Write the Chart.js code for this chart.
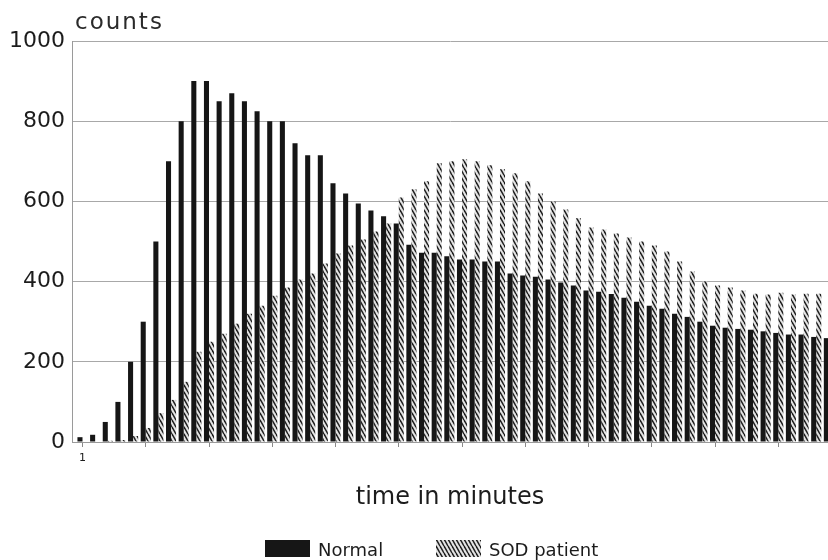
<!DOCTYPE html>
<html>
<head>
<meta charset="utf-8">
<title>counts over time</title>
<script src="https://cdn.jsdelivr.net/npm/chart.js@4.4.1/dist/chart.umd.min.js"></script>
<style>
  html, body { margin: 0; padding: 0; background: #ffffff; overflow: hidden; }
  canvas { display: block; }
</style>
</head>
<body>
<canvas id="chart" width="828" height="560"></canvas>
<script>
// Minutes after injection
const minutes = [
  1, 2, 3, 4, 5, 6, 7, 8, 9, 10,
  11, 12, 13, 14, 15, 16, 17, 18, 19, 20,
  21, 22, 23, 24, 25, 26, 27, 28, 29, 30,
  31, 32, 33, 34, 35, 36, 37, 38, 39, 40,
  41, 42, 43, 44, 45, 46, 47, 48, 49, 50,
  51, 52, 53, 54, 55, 56, 57, 58, 59, 60
];

// Counts per minute, normal subject
const normal = [
  12, 18, 50, 100, 200, 300, 500, 700, 800, 900,
  900, 850, 870, 850, 825, 800, 800, 745, 715, 715,
  645, 620, 595, 577, 563, 545, 492, 472, 472, 463,
  455, 455, 450, 450, 420, 415, 412, 405, 398, 390,
  378, 375, 369, 360, 350, 340, 332, 320, 312, 300,
  290, 285, 282, 280, 276, 272, 268, 268, 262, 259
];

// Counts per minute, SOD patient
const sodPatient = [
  0, 0, 3, 5, 15, 35, 72, 105, 150, 225,
  250, 270, 295, 320, 340, 365, 385, 405, 420, 445,
  470, 490, 505, 525, 545, 610, 630, 650, 695, 700,
  705, 700, 690, 680, 670, 650, 620, 600, 580, 558,
  535, 530, 520, 510, 500, 490, 475, 450, 425, 400,
  390, 385, 378, 370, 368, 372, 368, 370, 370, 370
];

// Tick marks on the time axis (every fifth minute) and their labels
const xTickMinutes = [1, 6, 11, 16, 21, 26, 31, 36, 41, 46, 51, 56];
const xTickLabels = ['1', '', '', '', '', '', '', '', '', '', '', ''];

const FONT = '"DejaVu Sans", "Noto Sans", sans-serif';
const INK = '#1c1c1c';

// Rope-like diagonal hatching used for the SOD patient bars
function makeHatch() {
  const tile = document.createElement('canvas');
  tile.width = 4;
  tile.height = 7;
  const t = tile.getContext('2d');
  t.fillStyle = '#e4e4e4';
  t.fillRect(0, 0, 4, 7);
  t.strokeStyle = '#1e1e1e';
  t.lineWidth = 1.5;
  for (const o of [-4, 0, 4]) {
    t.beginPath();
    t.moveTo(o, 0);
    t.lineTo(o + 4, 7);
    t.stroke();
  }
  return document.getElementById('chart').getContext('2d').createPattern(tile, 'repeat');
}
const hatch = makeHatch();

const toPoints = (vals) => vals.map((v, i) => ({ x: minutes[i], y: v }));

// Axis caption above the value axis and the legend strip at the bottom
const decorations = {
  id: 'decorations',
  afterDraw(chart) {
    const { ctx, chartArea } = chart;
    ctx.save();
    ctx.fillStyle = '#2a2a2a';
    ctx.textBaseline = 'alphabetic';
    ctx.textAlign = 'left';
    ctx.font = '23px ' + FONT;
    ctx.letterSpacing = '2px';
    ctx.fillText('counts', chartArea.left + 3, 29);
    ctx.letterSpacing = '0px';

    const boxW = 45, boxH = 17, boxTop = 540;
    const starts = [265, 436];
    ctx.font = '18px ' + FONT;
    chart.data.datasets.forEach((ds, i) => {
      const x = starts[i];
      ctx.fillStyle = ds.backgroundColor;
      ctx.fillRect(x, boxTop, boxW, boxH);
      ctx.fillStyle = INK;
      ctx.fillText(ds.label, x + boxW + 8, boxTop + boxH - 1);
    });
    ctx.restore();
  }
};

new Chart(document.getElementById('chart'), {
  type: 'bar',
  data: {
    datasets: [
      {
        label: 'Normal',
        data: toPoints(normal),
        backgroundColor: '#161616',
        categoryPercentage: 0.8,
        barPercentage: 1.0,
        clip: false
      },
      {
        label: 'SOD patient',
        data: toPoints(sodPatient),
        backgroundColor: hatch,
        categoryPercentage: 0.8,
        barPercentage: 1.0,
        clip: false
      }
    ]
  },
  options: {
    responsive: false,
    devicePixelRatio: 1,
    animation: false,
    layout: { padding: { top: 41, left: 0, right: 0, bottom: 0 } },
    plugins: {
      legend: { display: false },
      tooltip: { enabled: false },
      title: { display: false }
    },
    scales: {
      x: {
        type: 'linear',
        position: 'bottom',
        offset: false,
        min: 0.17,
        max: 59.93,
        afterBuildTicks: (axis) => {
          axis.ticks = xTickMinutes.map((v) => ({ value: v }));
        },
        afterFit: (axis) => { axis.height = 118; },
        ticks: {
          autoSkip: false,
          maxRotation: 0,
          padding: 5,
          color: INK,
          font: { family: FONT, size: 11 },
          callback: (value, index) => xTickLabels[index] ?? ''
        },
        grid: {
          offset: false,
          drawOnChartArea: false,
          drawTicks: true,
          tickLength: 5,
          color: '#8a8a8a'
        },
        border: { display: true, color: '#9a9a9a' },
        title: {
          display: true,
          text: 'time in minutes',
          color: INK,
          font: { family: FONT, size: 24 },
          padding: { top: 0, bottom: 48 }
        }
      },
      y: {
        min: 0,
        max: 1000,
        afterFit: (axis) => { axis.width = 72; },
        ticks: {
          stepSize: 200,
          padding: 7,
          color: INK,
          font: { family: FONT, size: 22 },
          callback: (value) => String(value)
        },
        grid: {
          color: '#a8a8a8',
          lineWidth: 1,
          drawTicks: false
        },
        border: { display: true, color: '#9a9a9a' }
      }
    }
  },
  plugins: [decorations]
});
</script>
</body>
</html>
